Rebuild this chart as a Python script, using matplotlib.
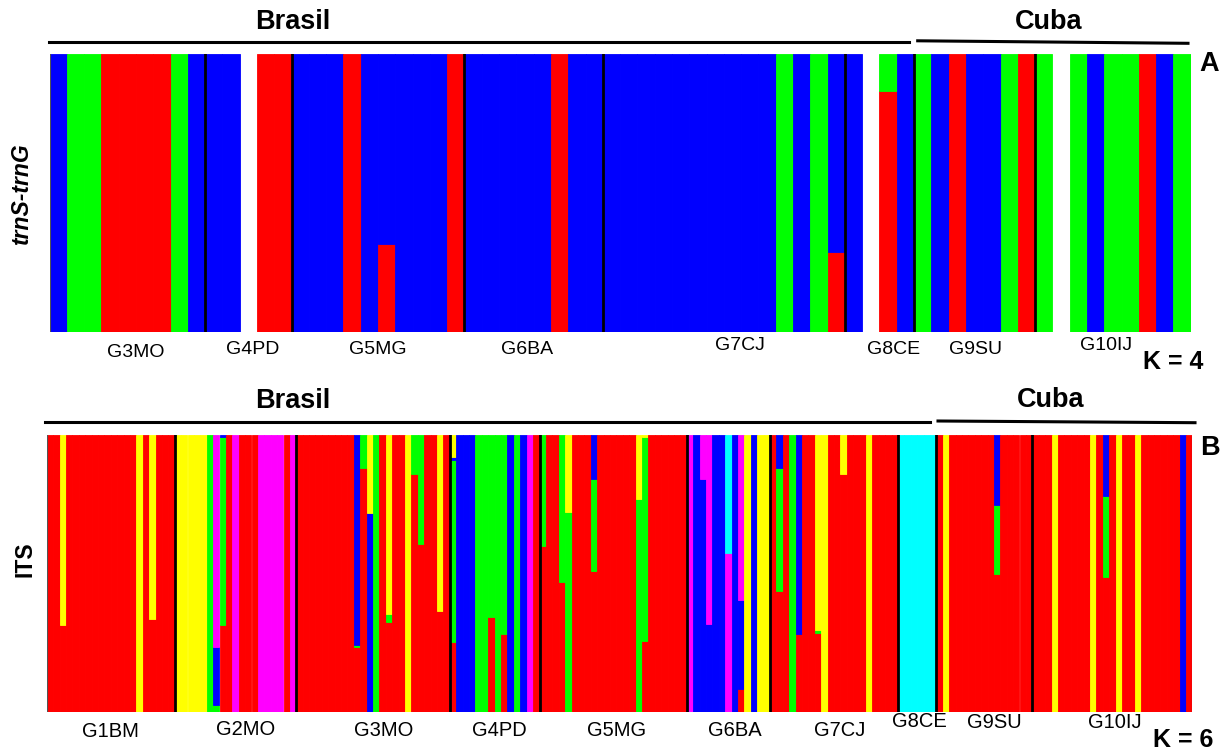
import matplotlib
matplotlib.use("Agg")
import matplotlib.pyplot as plt
from matplotlib.lines import Line2D

W, H = 1230, 751
plt.rcParams["font.family"] = ["Liberation Sans", "DejaVu Sans"]

COLORS = {"R": "#FF0000", "G": "#00FF00", "B": "#0000FF",
          "Y": "#FFFF00", "M": "#FF00FF", "C": "#00FFFF"}

# ---------------- Panel A: trnS-trnG, K = 4 ----------------
# one entry per individual, membership listed bottom -> top; "" = no data
trn_groups = ["G3MO", "G4PD", "G5MG", "G6BA", "G7CJ", "G8CE", "G9SU", "G10IJ"]
trn_q = (
    ["B"] + ["G"] * 2 + ["R"] * 4 + ["G", "B"]
    + ["B"] * 2 + [""] + ["R"] * 2
    + ["B"] * 3 + ["R", "B", "R.317 B.683"] + ["B"] * 3 + ["R"]
    + ["B"] * 5 + ["R"] + ["B"] * 2
    + ["B"] * 10 + ["G", "B", "G", "R.289 B.711"]
    + ["B", "", "R.87 G.13", "B"]
    + ["G", "B", "R", "B", "B", "G", "R"]
    + ["G", "", "G", "B", "G", "G", "R", "B", "G"]
)
trn_breaks = [9, 14, 24, 32, 46, 50, 57]

# ---------------- Panel B: ITS, K = 6 ----------------
its_groups = ["G1BM", "G2MO", "G3MO", "G4PD", "G5MG", "G6BA", "G7CJ", "G8CE", "G9SU", "G10IJ"]
its_q = (
    # G1BM
    ["R"] * 2 + ["R.315 Y.685"] + ["R"] * 11 + ["Y", "R", "R.335 Y.665"] + ["R"] * 3
    # G2MO
    + ["Y"] * 5 + ["G", "G.026 B.21 M.764", "R.315 G.675 B.01", "R", "M"] + ["R"] * 3
    + ["M"] * 4 + ["R", "M"]
    # G3MO
    + ["R"] * 9 + ["R.233 G.01 B.757", "R.88 G.12", "B.718 Y.282", "G", "R",
                   "R.325 G.03 Y.645", "R", "R", "Y", "R.86 G.14", "R.607 G.393",
                   "R", "R", "R.363 Y.637", "R"]
    # G4PD
    + ["R.254 G.655 B.009 Y.082"] + ["B"] * 3 + ["G"] * 2
    + ["R.343 G.657", "G", "R.283 G.717", "B", "G", "B", "M", "R"]
    # G5MG
    + ["R.597 G.403", "R", "R", "R.469 G.531", "G.72 Y.28"] + ["R"] * 3
    + ["R.507 G.333 B.16"] + ["R"] * 6 + ["G.768 Y.232", "R.257 G.733 Y.01"] + ["R"] * 6
    # G6BA
    + ["M", "B", "B.84 M.16", "B.316 M.684", "B", "B", "M.575 C.425", "B",
       "R.083 B.321 M.596", "Y", "B", "Y", "Y"]
    # G7CJ
    + ["R", "R.435 G.445 B.12", "R", "G", "R.282 B.718", "R", "R",
       "R.285 G.012 Y.703", "Y", "R", "R", "R.86 Y.14"] + ["R"] * 3 + ["Y"] + ["R"] * 4
    # G8CE
    + ["C"] * 6
    # G9SU
    + ["R", "Y"] + ["R"] * 7 + ["R.496 G.252 B.252"] + ["R"] * 5
    # G10IJ
    + ["R"] * 3 + ["Y"] + ["R"] * 5 + ["Y", "R", "R.487 G.291 B.222", "R", "Y", "R", "R", "Y"]
    + ["R"] * 6 + ["B", "R"]
)
its_breaks = [20, 39, 63, 77, 100, 113, 133, 139, 154]

# ---------------- layout (pixels) ----------------
trn_label_xy = [(135.7, 353), (252.7, 349), (378, 349), (526.7, 350), (740, 346),
                (894, 349.5), (975, 349.5), (1106, 345.5)]
its_label_xy = [(110.8, 731.5), (245.3, 729.5), (383.8, 730.5), (499, 730.5), (617, 730.5),
                (735, 731), (840, 731), (919, 721.5), (994, 723), (1115, 722)]


def parse(entry):
    parts = []
    for p in entry.split():
        parts.append((p[0], float(p[1:]) if len(p) > 1 else 1.0))
    tot = sum(f for _, f in parts)
    return [(c, f / tot) for c, f in parts]


def draw_panel(ax, q, breaks):
    n = len(q)
    for i, entry in enumerate(q):
        if not entry:
            continue
        bottom = 0.0
        for c, f in parse(entry):
            ax.bar(i, f, bottom=bottom, width=1.0, align="edge", color=COLORS[c],
                   edgecolor=COLORS[c], linewidth=0.6)
            bottom += f
    for b in breaks:
        ax.axvline(b, color="black", lw=2.0)
    ax.set_xlim(0, n)
    ax.set_ylim(0, 1)
    ax.axis("off")


def fx(x):
    return x / W


def fy(y):
    return 1 - y / H


fig = plt.figure(figsize=(W / 100, H / 100), dpi=100)

axA = fig.add_axes([fx(49.5), fy(332), fx(1190.7) - fx(49.5), (332 - 54.5) / H])
draw_panel(axA, trn_q, trn_breaks)
axA.axvline(0, color="#555555", lw=0.8)

axB = fig.add_axes([fx(46.7), fy(712), fx(1192.3) - fx(46.7), (712 - 434.7) / H])
draw_panel(axB, its_q, its_breaks)
axB.axvline(0, color="#555555", lw=0.8)
axB.axvline(len(its_q), color="#555555", lw=0.8)

# group labels
for name, (x, y) in zip(trn_groups, trn_label_xy):
    fig.text(fx(x), fy(y), name, ha="center", va="center", fontsize=14)
for name, (x, y) in zip(its_groups, its_label_xy):
    fig.text(fx(x), fy(y), name, ha="center", va="center", fontsize=14.5)

# region headers and lines
bold = dict(ha="center", va="center", fontweight="bold")
fig.text(fx(293), fy(22), "Brasil", fontsize=19.5, **bold)
fig.text(fx(1048.5), fy(22), "Cuba", fontsize=19.5, **bold)
fig.text(fx(292.5), fy(401.5), "Brasil", fontsize=19.5, **bold)
fig.text(fx(1050.8), fy(400), "Cuba", fontsize=19.5, **bold)

for (x1, y1, x2, y2) in [(49, 42.3, 909, 42.3), (917.7, 40.8, 1188, 43.3),
                         (45, 422.3, 930, 422.3), (938, 421, 1195, 422.7)]:
    fig.add_artist(Line2D([fx(x1), fx(x2)], [fy(y1), fy(y2)], color="black", lw=2.2,
                          transform=fig.transFigure))

fig.text(fx(1209), fy(64), "A", fontsize=19.5, **bold)
fig.text(fx(1210), fy(448.3), "B", fontsize=19.5, **bold)
fig.text(fx(1173), fy(361.5), "K = 4", fontsize=18, **bold)
fig.text(fx(1183), fy(740), "K = 6", fontsize=18, **bold)

fig.text(fx(22), fy(194), "trnS-trnG", rotation=90, fontsize=16.5, fontstyle="italic", **bold)
fig.text(fx(25), fy(559), "ITS", rotation=90, fontsize=16.5, **bold)

fig.savefig("out.png", dpi=100)
